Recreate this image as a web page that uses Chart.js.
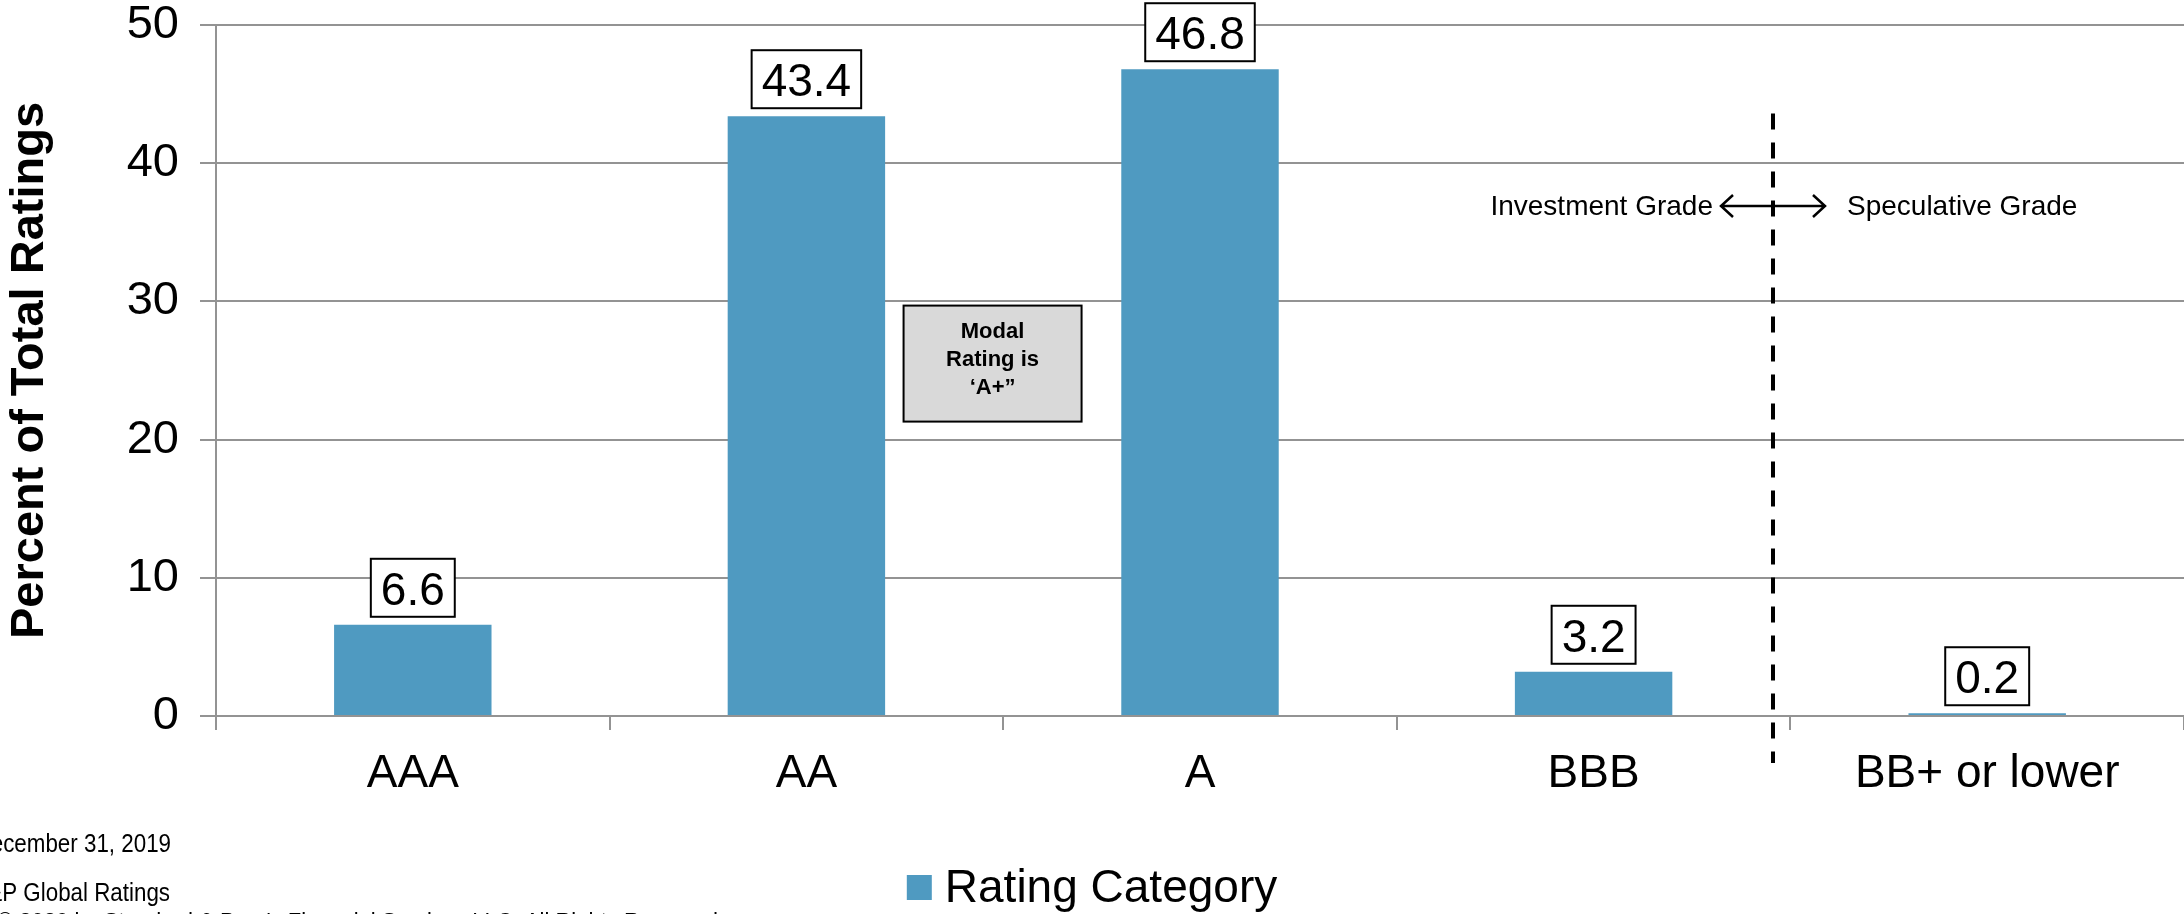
<!DOCTYPE html>
<html>
<head>
<meta charset="utf-8">
<script src="https://cdn.jsdelivr.net/npm/chart.js@4"></script>
<style>
    html, body {
        margin: 0;
        padding: 0;
        background: #ffffff;
    }
    #wrap {
        width: 2184px;
        height: 914px;
    }
</style>
</head>
<body>
<div id="wrap"><canvas id="ratingsChart" width="2184" height="914"></canvas></div>
<script>
const categories = ["AAA", "AA", "A", "BBB", "BB+ or lower"];
const percentages = [6.6, 43.4, 46.8, 3.2, 0.2];
const seriesLabel = "Rating Category";
const axisTitle = "Percent of Total Ratings";
const modalNote = ["Modal", "Rating is", "\u2018A+\u201d"];
const gradeLeft = "Investment Grade";
const gradeRight = "Speculative Grade";
const footnotes = [
    "As of December 31, 2019",
    "Source: S&P Global Ratings",
    "\u00a9 2020 by Standard & Poor's Financial Services LLC. All Rights Reserved.",
];

const FONT = "'Liberation Sans', Arial, sans-serif";
const barColor = "#4f9ac1";
const gridColor = "#939393";

// boxed value above every bar
const valueBoxes = {
    id: "valueBoxes",
    afterDatasetsDraw(chart) {
        const ctx = chart.ctx;
        const meta = chart.getDatasetMeta(0);
        ctx.save();
        ctx.font = "46px " + FONT;
        meta.data.forEach(function (bar, i) {
            const txt = percentages[i].toFixed(1);
            const w = ctx.measureText(txt).width;
            const bottom = bar.y - 8;
            const h = 58;
            const left = bar.x - w / 2 - 10;
            ctx.fillStyle = "#ffffff";
            ctx.fillRect(left, bottom - h, w + 20, h);
            ctx.strokeStyle = "#000000";
            ctx.lineWidth = 2;
            ctx.strokeRect(left, bottom - h, w + 20, h);
            ctx.fillStyle = "#000000";
            ctx.textAlign = "center";
            ctx.textBaseline = "alphabetic";
            ctx.fillText(txt, bar.x, bottom - 12);
        });
        ctx.restore();
    },
};

// dashed divider, grade labels, modal box, legend and footnotes
const extras = {
    id: "extras",
    afterDraw(chart) {
        const ctx = chart.ctx;
        const xs = chart.scales.x;
        const ys = chart.scales.y;
        ctx.save();

        // investment / speculative divider
        const divX = Math.round(xs.getPixelForValue(3.457));
        ctx.strokeStyle = "#000000";
        ctx.lineWidth = 4;
        ctx.setLineDash([16, 13]);
        ctx.beginPath();
        ctx.moveTo(divX, ys.getPixelForValue(43.6));
        ctx.lineTo(divX, ys.getPixelForValue(-3.4));
        ctx.stroke();
        ctx.setLineDash([]);

        const arrowY = ys.getPixelForValue(36.9);
        ctx.lineWidth = 2.5;
        ctx.beginPath();
        ctx.moveTo(divX - 51, arrowY);
        ctx.lineTo(divX + 51, arrowY);
        ctx.moveTo(divX - 40, arrowY - 11);
        ctx.lineTo(divX - 52, arrowY);
        ctx.lineTo(divX - 40, arrowY + 11);
        ctx.moveTo(divX + 40, arrowY - 11);
        ctx.lineTo(divX + 52, arrowY);
        ctx.lineTo(divX + 40, arrowY + 11);
        ctx.stroke();

        ctx.fillStyle = "#000000";
        ctx.font = "28px " + FONT;
        ctx.textBaseline = "middle";
        ctx.textAlign = "right";
        ctx.fillText(gradeLeft, divX - 60, arrowY + 1);
        ctx.textAlign = "left";
        ctx.fillText(gradeRight, divX + 74, arrowY + 1);

        // modal rating note
        const mx = xs.getPixelForValue(1.473);
        const my = ys.getPixelForValue(25.5);
        ctx.fillStyle = "#d9d9d9";
        ctx.fillRect(mx - 89, my - 58, 178, 116);
        ctx.strokeStyle = "#000000";
        ctx.lineWidth = 2;
        ctx.strokeRect(mx - 89, my - 58, 178, 116);
        ctx.fillStyle = "#000000";
        ctx.font = "bold 22px " + FONT;
        ctx.textAlign = "center";
        ctx.textBaseline = "alphabetic";
        modalNote.forEach(function (line, i) {
            ctx.fillText(line, mx, my - 26 + i * 28);
        });

        // legend
        ctx.font = "46px " + FONT;
        const tw = ctx.measureText(seriesLabel).width;
        const total = 25 + 13 + tw;
        const lx = chart.width / 2 - total / 2;
        ctx.fillStyle = chart.data.datasets[0].backgroundColor;
        ctx.fillRect(lx, 875, 25, 25);
        ctx.fillStyle = "#000000";
        ctx.textAlign = "left";
        ctx.fillText(seriesLabel, lx + 38, 902);

        // footnotes, clipped at the left edge like the source slide (narrow face)
        ctx.save();
        ctx.scale(0.86, 1);
        ctx.font = "26px " + FONT;
        ctx.textAlign = "right";
        ctx.fillText(footnotes[0], 171 / 0.86, 852);
        ctx.fillText(footnotes[1], 170 / 0.86, 901);
        ctx.restore();
        ctx.font = "22px " + FONT;
        ctx.textAlign = "left";
        ctx.fillText(footnotes[2], -3, 928);

        ctx.restore();
    },
};

const config = {
    type: "bar",
    data: {
        labels: categories,
        datasets: [
            {
                label: seriesLabel,
                data: percentages,
                backgroundColor: barColor,
                borderWidth: 0,
                barPercentage: 0.4,
                categoryPercentage: 1,
            },
        ],
    },
    options: {
        responsive: false,
        animation: false,
        layout: {
            padding: { top: 25, right: 0, bottom: 0, left: 0 },
        },
        scales: {
            x: {
                grid: {
                    display: true,
                    drawOnChartArea: false,
                    drawTicks: true,
                    tickLength: 14,
                    color: gridColor,
                    lineWidth: 2,
                },
                border: { display: false },
                ticks: {
                    color: "#000000",
                    padding: 17,
                    maxRotation: 0,
                    font: { family: FONT, size: 46 },
                },
                afterFit: function (scale) {
                    scale.height = 198;
                    scale.paddingLeft = 0;
                    scale.paddingRight = 0;
                },
            },
            y: {
                min: 0,
                max: 50,
                grid: {
                    color: gridColor,
                    lineWidth: 2,
                    tickLength: 16,
                },
                border: { display: true, color: gridColor, width: 2 },
                ticks: {
                    stepSize: 10,
                    color: "#000000",
                    padding: 21,
                    font: { family: FONT, size: 47 },
                },
                title: {
                    display: true,
                    text: axisTitle,
                    color: "#000000",
                    padding: { top: 2, bottom: 0 },
                    font: { family: FONT, size: 47, weight: "bold" },
                },
                afterFit: function (scale) {
                    scale.width = 216;
                    scale.paddingTop = 0;
                    scale.paddingBottom = 0;
                },
            },
        },
        plugins: {
            legend: { display: false },
            tooltip: { enabled: false },
        },
    },
    plugins: [valueBoxes, extras],
};

var ratingsChart = new Chart(document.getElementById("ratingsChart"), config);
</script>
</body>
</html>
